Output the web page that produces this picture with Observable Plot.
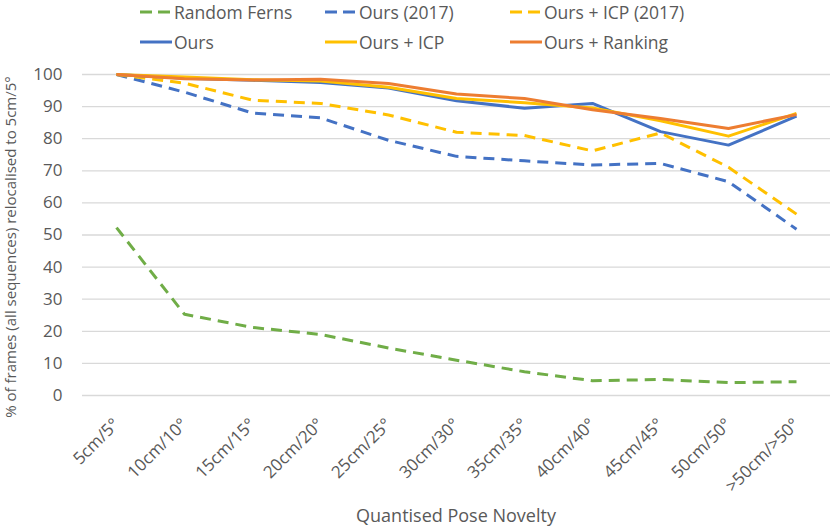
<!DOCTYPE html>
<html>
<head>
<meta charset="utf-8">
<script src="https://cdn.jsdelivr.net/npm/d3@7"></script>
<script src="https://cdn.jsdelivr.net/npm/@observablehq/plot@0.6"></script>
<style>
  html, body { margin: 0; padding: 0; background: #fff; }
  #wrap { position: relative; width: 830px; height: 530px; font-family: "Open Sans", sans-serif; color: #595959; }
  .lg { position: absolute; display: flex; align-items: center; font-size: 17.5px; line-height: 22px; white-space: nowrap; }
  .lg svg { display: block; margin-right: 2px; }
</style>
</head>
<body>
<div id="wrap"></div>
<script>
const categories = ["5cm/5°", "10cm/10°", "15cm/15°", "20cm/20°", "25cm/25°", "30cm/30°", "35cm/35°", "40cm/40°", "45cm/45°", "50cm/50°", ">50cm/>50°"];
const seriesNames = ["Random Ferns", "Ours (2017)", "Ours + ICP (2017)", "Ours", "Ours + ICP", "Ours + Ranking"];
const seriesColors = ["#70AD47", "#4472C4", "#FFC000", "#4472C4", "#FFC000", "#ED7D31"];
const seriesDashed = [true, true, true, false, false, false];
const randomFerns = [52.3, 25.3, 21.2, 19.0, 14.8, 11.0, 7.4, 4.6, 5.0, 4.0, 4.3];
const ours2017 = [100, 94.5, 88.0, 86.5, 79.5, 74.5, 73.1, 71.8, 72.3, 66.6, 51.8];
const oursIcp2017 = [100, 97.3, 92.0, 91.0, 87.4, 82.0, 81.0, 76.2, 81.8, 71.1, 56.5];
const ours = [100, 98.8, 98.2, 97.5, 95.8, 91.8, 89.5, 91.0, 82.2, 78.0, 87.0];
const oursIcp = [100, 99.2, 98.4, 98.0, 96.0, 92.5, 91.2, 89.6, 85.6, 80.8, 87.9];
const oursRanking = [100, 98.7, 98.3, 98.5, 97.2, 93.9, 92.5, 89.0, 86.3, 83.2, 87.5];
const yTicks = [0, 10, 20, 30, 40, 50, 60, 70, 80, 90, 100];
const xTitle = "Quantised Pose Novelty";
const yTitle = "% of frames (all sequences) relocalised to 5cm/5°";

const seriesValues = [randomFerns, ours2017, oursIcp2017, ours, oursIcp, oursRanking];
const rows = [];
seriesNames.forEach((s, i) => categories.forEach((c, j) => rows.push({series: s, cat: c, value: seriesValues[i][j]})));

const lineMarks = seriesNames.map((s, i) => Plot.line(rows.filter(d => d.series === s), {
  x: "cat", y: "value", stroke: "series", strokeWidth: 3,
  strokeDasharray: seriesDashed[i] ? "11,7" : null,
  strokeLinejoin: "round", strokeLinecap: "butt"
}));

const chart = Plot.plot({
  width: 830, height: 530,
  marginLeft: 82, marginRight: 0, marginTop: 74, marginBottom: 135,
  style: {fontFamily: "Open Sans", fontSize: "17px", color: "#595959", background: "white", overflow: "visible"},
  x: {type: "point", domain: categories, padding: 0.5, label: null},
  y: {domain: [0, 100], label: null},
  color: {domain: seriesNames, range: seriesColors},
  marks: [
    Plot.gridY(yTicks, {stroke: "#D9D9D9", strokeOpacity: 1, strokeWidth: 1.3}),
    Plot.axisY(yTicks, {tickSize: 0, tickPadding: 20, label: null, fill: "#595959"}),
    Plot.axisX({tickSize: 0, tickRotate: -45, tickPadding: 26, dx: 0, label: null, fill: "#595959"}),
    ...lineMarks
  ]
});
const wrap = document.getElementById("wrap");
wrap.appendChild(chart);

const svg = d3.select(chart);
svg.append("text").attr("x", 456).attr("y", 517).attr("text-anchor", "middle")
  .attr("dominant-baseline", "middle").attr("fill", "#595959")
  .style("font-size", "18px").style("font-family", "Open Sans").text(xTitle);
svg.append("text").attr("transform", "translate(12,247) rotate(-90)").attr("text-anchor", "middle")
  .attr("dominant-baseline", "middle").attr("fill", "#595959")
  .style("font-size", "15px").style("font-family", "Open Sans").text(yTitle);

// legend
const legendPos = [[140, 12], [325, 12], [510, 12], [140, 42], [325, 42], [510, 42]];
seriesNames.forEach((s, i) => {
  const div = document.createElement("div");
  div.className = "lg";
  div.style.left = legendPos[i][0] + "px";
  div.style.top = (legendPos[i][1] - 11) + "px";
  const dash = seriesDashed[i] ? 'stroke-dasharray="12,6"' : "";
  div.innerHTML = `<svg width="32" height="6"><line x1="0" y1="3" x2="32" y2="3" stroke="${seriesColors[i]}" stroke-width="3" ${dash}/></svg><span>${s}</span>`;
  wrap.appendChild(div);
});
</script>
</body>
</html>
